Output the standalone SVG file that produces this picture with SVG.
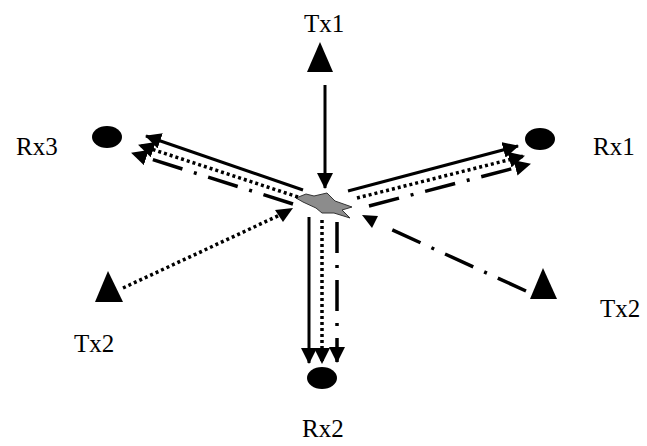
<svg xmlns="http://www.w3.org/2000/svg" width="647" height="446" viewBox="0 0 647 446">
<style>
  .lbl { font-family: "Liberation Serif", "Times New Roman", serif; font-size: 25px; fill: #000; }
  .node { fill: #000; }
  .solid { stroke: #000; stroke-width: 3; fill: none; }
  .dot { stroke: #000; stroke-width: 3.5; fill: none; stroke-dasharray: 3 3; }
  .dashdot { stroke: #000; stroke-width: 3.5; fill: none; stroke-dasharray: 31 12 3 12; }
  .head { fill: #000; }
</style>
<defs>
  <marker id="arr" markerUnits="userSpaceOnUse" markerWidth="16" markerHeight="16" refX="15" refY="8" orient="auto" viewBox="0 0 16 16">
    <path d="M0,0 L16,8 L0,16 z" fill="#000"/>
  </marker>
</defs>

<g id="Tx1">
  <polygon class="node" points="320,42 307,72 333,72"/>
  <text class="lbl" x="304" y="32">Tx1</text>
</g>
<g id="Rx3">
  <ellipse class="node" cx="107" cy="137" rx="15" ry="11"/>
  <text class="lbl" x="16" y="155">Rx3</text>
</g>
<g id="Rx1">
  <ellipse class="node" cx="540" cy="139" rx="15" ry="11"/>
  <text class="lbl" x="593" y="155">Rx1</text>
</g>
<g id="Rx2">
  <ellipse class="node" cx="322" cy="378" rx="15" ry="11"/>
  <text class="lbl" x="302" y="437">Rx2</text>
</g>
<g id="Tx2-left">
  <polygon class="node" points="108,271 95,302 123,302"/>
  <text class="lbl" x="74" y="352">Tx2</text>
</g>
<g id="Tx2-right">
  <polygon class="node" points="543,268 530,299 557,299"/>
  <text class="lbl" x="600" y="317">Tx2</text>
</g>
<g id="scatterer">
  <polygon points="296,198 306,194 314,196 327,193 335,201 352,207 342,210 350,218 334,213 322,213 316,208 303,202" fill="#8c8c8c" stroke="#333" stroke-width="1"/>
</g>

<g id="connectors">
  <!-- Tx1 to scatterer -->
  <line class="solid" x1="325" y1="85" x2="325" y2="188" marker-end="url(#arr)"/>
  <!-- to Rx3 -->
  <line class="solid" x1="303" y1="190" x2="146" y2="136" marker-end="url(#arr)"/>
  <line class="dot" x1="298" y1="197" x2="139" y2="145" marker-end="url(#arr)"/>
  <line class="dashdot" x1="293" y1="204" x2="132" y2="153" marker-end="url(#arr)"/>
  <!-- to Rx1 -->
  <line class="solid" x1="348" y1="191" x2="518" y2="146" marker-end="url(#arr)"/>
  <line class="dot" x1="357" y1="198" x2="524" y2="156" marker-end="url(#arr)"/>
  <line class="dashdot" x1="369" y1="206" x2="530" y2="164" marker-end="url(#arr)"/>
  <!-- to Rx2 -->
  <line class="solid" x1="309" y1="217" x2="309" y2="363" marker-end="url(#arr)"/>
  <line class="dot" x1="322" y1="220" x2="322" y2="363" marker-end="url(#arr)"/>
  <line class="dashdot" x1="337" y1="222" x2="337" y2="362" marker-end="url(#arr)"/>
  <!-- Tx2 left to scatterer (dotted) -->
  <line class="dot" x1="123" y1="288" x2="282" y2="214"/>
  <polygon class="head" points="275,210 293,208 283,222"/>
  <!-- Tx2 right to scatterer (dash-dot) -->
  <line class="dashdot" x1="526" y1="291" x2="386" y2="227"/>
  <polygon class="head" points="362,215 378,216 372,228"/>
</g>
</svg>
